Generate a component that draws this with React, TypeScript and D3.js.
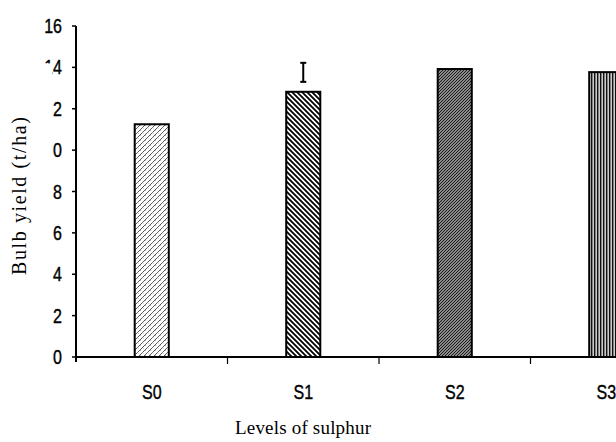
import React, { useEffect, useRef } from 'react';
import * as d3 from 'd3';

const levels = ['S0', 'S1', 'S2', 'S3'];
const bulbYield = [11.25, 12.82, 13.92, 13.77];
// only S1 carries an error bar in the original
const errLow = [null, 13.3, null, null];
const errHigh = [null, 14.22, null, null];
const yTicks = [0, 2, 4, 6, 8, 10, 12, 14, 16];
const yTickLabels = ['0', '2', '4', '6', '8', '0', '2', '14', '16'];
const patternIds = ['p-weave', 'p-wide', 'p-dense', 'p-vert'];

function App() {
  const ref = useRef(null);

  useEffect(() => {
    const svg = d3.select(ref.current);
    svg.selectAll('*').remove();

    const width = 616, height = 442;
    const left = 76, base = 357, top = 26;
    const step = 151.5;
    const tickFont = 'Liberation Sans, Arial, sans-serif';

    const x = d3.scaleBand().domain(levels).range([left, left + step * levels.length]).padding(0);
    const y = d3.scaleLinear().domain([0, 16]).range([base, top]);
    const barW = x.bandwidth() * 0.225;

    const defs = svg.append('defs');
    // S0: light weave
    const p0 = defs.append('pattern').attr('id', patternIds[0]).attr('patternUnits', 'userSpaceOnUse')
      .attr('width', 5).attr('height', 5);
    p0.append('rect').attr('width', 5).attr('height', 5).attr('fill', '#fff');
    p0.append('path').attr('d', 'M0,5 L5,0 M-1,1 L1,-1 M4,6 L6,4').attr('stroke', '#444').attr('stroke-width', 0.9);
    p0.append('path').attr('d', 'M0,0 L2.5,2.5 M2.5,2.5 L5,5').attr('stroke', '#999').attr('stroke-width', 0.7)
      .attr('stroke-dasharray', '1.5 2');
    // S1: wide back-slash stripes
    const p1 = defs.append('pattern').attr('id', patternIds[1]).attr('patternUnits', 'userSpaceOnUse')
      .attr('width', 5).attr('height', 5);
    p1.append('rect').attr('width', 5).attr('height', 5).attr('fill', '#fff');
    p1.append('path').attr('d', 'M0,0 L5,5 M-1,4 L1,6 M4,-1 L6,1').attr('stroke', '#000').attr('stroke-width', 1.8);
    // S2: dense forward slashes
    const p2 = defs.append('pattern').attr('id', patternIds[2]).attr('patternUnits', 'userSpaceOnUse')
      .attr('width', 3).attr('height', 3);
    p2.append('rect').attr('width', 3).attr('height', 3).attr('fill', '#bbb');
    p2.append('path').attr('d', 'M0,3 L3,0 M-1,1 L1,-1 M2,4 L4,2').attr('stroke', '#111').attr('stroke-width', 1.1);
    // S3: vertical lines
    const p3 = defs.append('pattern').attr('id', patternIds[3]).attr('patternUnits', 'userSpaceOnUse')
      .attr('width', 3).attr('height', 3);
    p3.append('rect').attr('width', 3).attr('height', 3).attr('fill', '#ccc');
    p3.append('rect').attr('width', 1.4).attr('height', 3).attr('fill', '#111');

    svg.append('rect').attr('width', width).attr('height', height).attr('fill', '#fff');

    // bars
    svg.append('g').selectAll('rect').data(levels).join('rect')
      .attr('x', d => x(d) + (x.bandwidth() - barW) / 2)
      .attr('y', (d, i) => y(bulbYield[i]))
      .attr('width', barW)
      .attr('height', (d, i) => base - y(bulbYield[i]))
      .attr('fill', (d, i) => `url(#${patternIds[i]})`)
      .attr('stroke', '#000')
      .attr('stroke-width', 2);

    // error bar
    const eg = svg.append('g').attr('stroke', '#000').attr('stroke-width', 2);
    levels.forEach((d, i) => {
      if (errLow[i] == null) return;
      const cx = x(d) + x.bandwidth() / 2;
      eg.append('line').attr('x1', cx).attr('x2', cx).attr('y1', y(errHigh[i])).attr('y2', y(errLow[i]));
      eg.append('line').attr('x1', cx - 3).attr('x2', cx + 3).attr('y1', y(errHigh[i])).attr('y2', y(errHigh[i]));
      eg.append('line').attr('x1', cx - 3).attr('x2', cx + 3).attr('y1', y(errLow[i])).attr('y2', y(errLow[i]));
    });

    // y axis
    svg.append('g').selectAll('line').data(yTicks).join('line')
      .attr('x1', left - 4).attr('x2', left).attr('y1', d => y(d)).attr('y2', d => y(d))
      .attr('stroke', '#000').attr('stroke-width', 1.5);
    svg.append('g').selectAll('g').data(yTicks).join('g')
      .attr('transform', d => `translate(62,${y(d) + 7}) scale(0.8,1)`)
      .append('text')
      .attr('text-anchor', 'end')
      .attr('font-family', tickFont).attr('font-size', 20)
      .attr('stroke', '#000').attr('stroke-width', 0.4)
      .text((d, i) => yTickLabels[i]);
    svg.append('line').attr('x1', left).attr('x2', left).attr('y1', top).attr('y2', base + 5)
      .attr('stroke', '#000').attr('stroke-width', 2);
    // the "1" of 14 is cut off in the original
    svg.append('rect').attr('x', 43).attr('y', y(14) - 4).attr('width', 9.5).attr('height', 13).attr('fill', '#fff');

    // x axis
    svg.append('line').attr('x1', left).attr('x2', width).attr('y1', base).attr('y2', base)
      .attr('stroke', '#000').attr('stroke-width', 2);
    svg.append('g').selectAll('line').data(levels.slice(1)).join('line')
      .attr('x1', d => x(d)).attr('x2', d => x(d))
      .attr('y1', base).attr('y2', base + 7)
      .attr('stroke', '#000').attr('stroke-width', 1.2);
    svg.append('g').selectAll('g').data(levels).join('g')
      .attr('transform', d => `translate(${x(d) + x.bandwidth() / 2},399) scale(0.8,1)`)
      .append('text')
      .attr('text-anchor', 'middle')
      .attr('font-family', tickFont)
      .attr('font-size', 20)
      .attr('stroke', '#000').attr('stroke-width', 0.4)
      .text(d => d);

    svg.append('text').attr('x', 303).attr('y', 434).attr('text-anchor', 'middle')
      .attr('font-family', 'Liberation Serif, serif').attr('font-size', 19)
      .attr('textLength', 136).attr('lengthAdjust', 'spacing').text('Levels of sulphur');
    svg.append('text').attr('transform', 'translate(26,196) rotate(-90)').attr('text-anchor', 'middle')
      .attr('font-family', 'Liberation Serif, serif').attr('font-size', 20)
      .attr('textLength', 158).attr('lengthAdjust', 'spacing').text('Bulb yield (t/ha)');
  }, []);

  return (
    <div style={{ position: 'absolute', left: 0, top: 0 }}>
      <svg ref={ref} width="616" height="442" style={{ display: 'block' }}></svg>
    </div>
  );
}

export default App;
